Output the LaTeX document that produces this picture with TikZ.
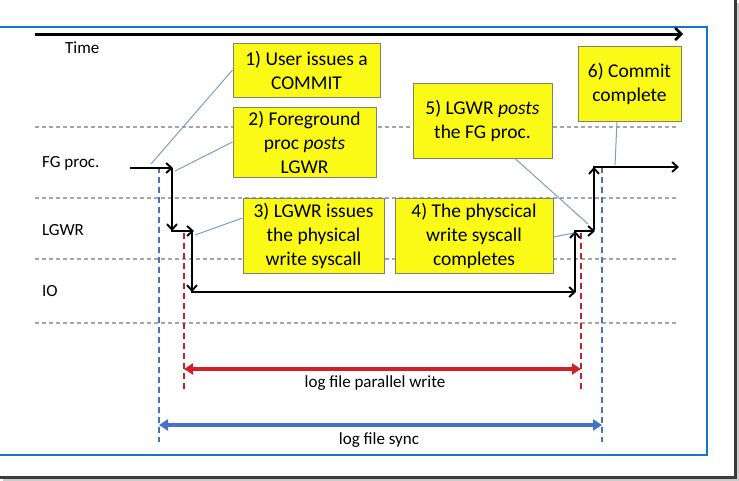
\documentclass[tikz,border=0pt]{standalone}
\usepackage{fontspec}
\setmainfont{Carlito}
\usetikzlibrary{arrows.meta}
\definecolor{boxyellow}{RGB}{250,250,22}
\definecolor{boxedge}{RGB}{130,130,100}
\definecolor{frameblue}{RGB}{20,118,196}
\definecolor{syncblue}{RGB}{68,114,196}
\definecolor{pwred}{RGB}{210,30,40}
\definecolor{dashred}{RGB}{192,32,48}
\definecolor{callout}{RGB}{120,160,190}
\definecolor{outergray}{RGB}{60,60,60}
\tikzset{
  stepbox/.style={draw=boxedge, line width=1pt, fill=boxyellow, align=center,
    inner sep=0pt, font=\fontsize{19.5}{24}\selectfont},
  lanelabel/.style={anchor=west, inner sep=0pt, font=\fontsize{17}{20}\selectfont},
  spanlabel/.style={inner sep=0pt, font=\fontsize{17}{20}\selectfont},
  laneline/.style={gray!70, line width=1.4pt, dash pattern=on 4pt off 3pt},
  flow/.style={black, line width=2.2pt, -{Straight Barb[length=5.5pt,width=10pt,line width=1.9pt]}},
  calloutline/.style={callout, line width=1pt},
  bluedash/.style={syncblue, line width=2.4pt, dash pattern=on 6pt off 4pt},
  reddash/.style={dashred, line width=2.4pt, dash pattern=on 6pt off 4pt},
  spanarrow/.style={line width=3.6pt, {Triangle[length=9pt,width=11pt]}-{Triangle[length=9pt,width=11pt]}}
}
\begin{document}
\begin{tikzpicture}[x=1pt,y=-1pt]
\useasboundingbox (0,0) rectangle (739,480);
% frames
\draw[outergray, line width=3pt] (735,0) -- (735,477) -- (0,477);
\draw[gray!40, line width=1.5pt] (738,3) -- (738,480) -- (3,480);
\draw[frameblue, line width=1.4pt] (0,27) -- (707,27) -- (707,455) -- (0,455);
% time axis
\coordinate (t0) at (35,34);
\coordinate (t1) at (683,34);
\draw[black, line width=3pt, -{Straight Barb[length=6pt,width=12pt,line width=2.5pt]}] (t0) -- (t1);
\node[lanelabel] (time) at (65,48) {Time};
% lane lines
\foreach \yy/\nm in {127/la,198/lb,259/lc,323/ld}{
  \coordinate (\nm0) at (35,\yy);
  \coordinate (\nm1) at (677,\yy);
  \draw[laneline] (\nm0) -- (\nm1);
}
\node[lanelabel] (fg) at (42,163) {FG proc.};
\node[lanelabel] (lgwr) at (42,230) {LGWR};
\node[lanelabel] (io) at (42,291) {IO};
% boxes
\node[stepbox, minimum width=147pt, minimum height=54pt] (b1) at (306.5,70) {1) User issues a\\COMMIT};
\node[stepbox, minimum width=143pt, minimum height=70pt] (b2) at (304.5,142) {2) Foreground\\proc \textit{posts}\\LGWR};
\node[stepbox, minimum width=141pt, minimum height=75pt] (b3) at (313.5,235.5) {3) LGWR issues\\the physical\\write syscall};
\node[stepbox, minimum width=158pt, minimum height=75pt] (b4) at (474,235.5) {4) The physcical\\write syscall\\completes};
\node[stepbox, minimum width=139pt, minimum height=75pt] (b5) at (482.5,120.5) {5) LGWR \textit{posts}\\the FG proc.};
\node[stepbox, minimum width=103pt, minimum height=75pt] (b6) at (629.5,83.5) {6) Commit\\complete};
% dashed verticals
\coordinate (bl0) at (159,167); \coordinate (bl1) at (159,442);
\coordinate (br0) at (602,167); \coordinate (br1) at (602,442);
\coordinate (rl0) at (184,233); \coordinate (rl1) at (184,392);
\coordinate (rr0) at (581,233); \coordinate (rr1) at (581,392);
\draw[bluedash] (bl0) -- (bl1);
\draw[bluedash] (br0) -- (br1);
\draw[reddash] (rl0) -- (rl1);
\draw[reddash] (rr0) -- (rr1);
% flow path
\coordinate (p0) at (130,168);
\coordinate (p1) at (173,168);
\coordinate (p2) at (172,231);
\coordinate (p3) at (194,231);
\coordinate (p4) at (192,231);
\coordinate (p5) at (192,292);
\coordinate (p6) at (576,292);
\coordinate (p7) at (575,292);
\coordinate (p8) at (575,231);
\coordinate (p9) at (595,231);
\coordinate (p10) at (594,230);
\coordinate (p11) at (594,167);
\coordinate (p12) at (593,167);
\coordinate (p13) at (679,167);
\draw[flow] (p0) -- (p1);
\draw[flow] (172,168) -- (p2);
\draw[flow] (171,231) -- (p3);
\draw[flow] (p4) -- (p5);
\draw[flow] (191,292) -- (p6);
\draw[flow] (p7) -- (p8);
\draw[flow] (574,231) -- (p9);
\draw[flow] (p10) -- (p11);
\draw[flow] (p12) -- (p13);
% callouts
\coordinate (c1) at (151,164);
\coordinate (c2) at (175,171);
\coordinate (c3) at (195,235);
\coordinate (c4) at (574,233);
\coordinate (c5) at (588,224);
\coordinate (c6) at (615,165);
\draw[calloutline] (b1.west |- 0,70) -- (c1);
\draw[calloutline] (b2.west |- 0,142) -- (c2);
\draw[calloutline] (b3.west |- 0,218) -- (c3);
\draw[calloutline] (b4.east |- 0,237) -- (c4);
\draw[calloutline] (b5.south -| 515,0) -- (c5);
\draw[calloutline] (b6.south -| 617,0) -- (c6);
% spans
\draw[spanarrow, pwred] (rl0 |- 0,369) coordinate (s1) -- (rr0 |- 0,369) coordinate (s2);
\node[spanlabel] (pwlabel) at (375,383) {log file parallel write};
\draw[spanarrow, syncblue] (bl0 |- 0,425) coordinate (s3) -- (br0 |- 0,425) coordinate (s4);
\node[spanlabel] (synclabel) at (379,440) {log file sync};
\end{tikzpicture}
\end{document}
